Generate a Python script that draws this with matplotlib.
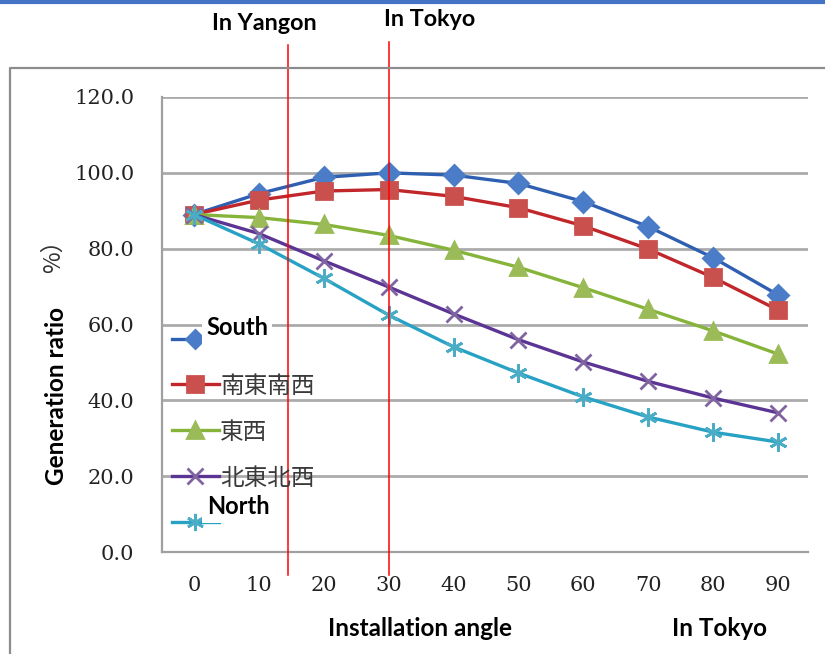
import matplotlib.pyplot as plt
from matplotlib.lines import Line2D

# installation angle (deg) and generation ratio (%) per orientation
angles = [0, 10, 20, 30, 40, 50, 60, 70, 80, 90]
south = [89.0, 94.5, 98.8, 100.0, 99.4, 97.2, 92.4, 85.8, 77.6, 67.8]
se_sw = [89.0, 92.8, 95.2, 95.6, 93.8, 90.8, 86.0, 79.9, 72.4, 63.8]
east_west = [89.0, 88.2, 86.4, 83.5, 79.6, 75.1, 69.7, 64.0, 58.3, 52.2]
ne_nw = [89.0, 84.0, 76.8, 69.9, 62.8, 56.0, 50.1, 45.0, 40.6, 36.7]
north = [89.0, 81.3, 72.2, 62.5, 54.1, 47.2, 40.9, 35.6, 31.6, 29.0]

labels = ["", "南東南西", "東西", "北東北西", ""]
yticks = [0, 20, 40, 60, 80, 100, 120]
xticks = angles

W, H = 825, 654
fig = plt.figure(figsize=(W / 100, H / 100), dpi=100)
fig.patch.set_facecolor("white")

ax = fig.add_axes([162 / W, 1 - 552 / H, (808 - 162) / W, (552 - 97) / H])
ax.set_xlim(-4.9, 94.6)
ax.set_ylim(0, 120)

ax.set_yticks(yticks)
ax.set_yticklabels([f"{v:.1f}" for v in yticks])
ax.set_xticks(xticks)
ax.set_xticklabels([str(v) for v in xticks])
ax.tick_params(length=0, labelsize=15, labelcolor="#222222")
ax.tick_params(axis="y", pad=20)
ax.tick_params(axis="x", pad=17)
for t in ax.get_xticklabels() + ax.get_yticklabels():
    t.set_family("DejaVu Serif")

for y in yticks[1:]:
    ax.axhline(y, color="#ababab", lw=2, zorder=0)
for s in ["top", "right"]:
    ax.spines[s].set_visible(False)
for s in ["left", "bottom"]:
    ax.spines[s].set_color("#a0a0a0")
    ax.spines[s].set_linewidth(1.6)

series = [
    (south, "#2f5fb0", "#4a7cc8", "D", 10),
    (se_sw, "#c0262a", "#c9504c", "s", 12),
    (east_west, "#86b43a", "#9bbb59", "^", 12),
    (ne_nw, "#5b3494", "#8064a2", "x", 12),
    (north, "#27a2c4", "#4bacc6", (6, 2, 0), 13),
]
handles = []
for vals, lc, mc, mk, ms in series:
    h, = ax.plot(angles, vals, color=lc, lw=2.4, marker=mk, ms=ms,
                 markerfacecolor=mc, markeredgecolor=mc, mew=2, zorder=3)
    handles.append(h)

leg = ax.legend(handles, labels, loc="upper left", frameon=False,
                bbox_to_anchor=(160 / W, 1 - 317 / H),
                bbox_transform=fig.transFigure,
                prop={"family": "Noto Sans CJK JP", "size": 17},
                handlelength=2.0, handletextpad=0.05, labelspacing=0.97,
                borderpad=0, markerscale=0.95)
for t in leg.get_texts():
    t.set_color("#3a3a3a")

# location reference lines
ax.axvline(14.5, ymin=-0.05, ymax=1.114, color="red", lw=1.1,
           clip_on=False, zorder=5)
ax.axvline(30, ymin=-0.05, ymax=1.121, color="red", lw=1.1,
           clip_on=False, zorder=5)

bold = {"family": "Lato", "weight": "bold", "color": "black"}
fig.text(264 / W, 1 - 23 / H, "In Yangon", ha="center", va="center",
         fontsize=16.8, **bold)
fig.text(430 / W, 1 - 19 / H, "In Tokyo", ha="center", va="center",
         fontsize=16.8, **bold)
fig.text(420 / W, 1 - 628 / H, "Installation angle", ha="center",
         va="center", fontsize=17.5, **bold)
fig.text(720 / W, 1 - 628 / H, "In Tokyo", ha="center", va="center",
         fontsize=17.5, **bold)
fig.text(237 / W, 1 - 328 / H, "South", ha="center", va="center",
         fontsize=17, zorder=10,
         bbox=dict(facecolor="white", edgecolor="none", pad=3), **bold)
fig.text(238 / W, 1 - 507 / H, "North", ha="center", va="center",
         fontsize=17, zorder=10,
         bbox=dict(facecolor="white", edgecolor="none", pad=3), **bold)
fig.text(56 / W, 1 - 396 / H, "Generation ratio", ha="center", va="center",
         rotation=90, fontsize=17.5, **bold)
fig.text(53 / W, 1 - 250 / H, "%）", ha="center", va="center",
         rotation=90, fontsize=17, family="Noto Sans CJK JP",
         color="#333333")

# outer frame of the pasted chart and top border
fig.add_artist(Line2D([10 / W, 10 / W, 1], [0, 1 - 68 / H, 1 - 68 / H],
                      transform=fig.transFigure, color="#8c8c8c", lw=1.6))
fig.add_artist(Line2D([0, 1], [1 - 1.5 / H, 1 - 1.5 / H],
                      transform=fig.transFigure, color="#4472c4", lw=3))

fig.savefig("out.png", dpi=100)
